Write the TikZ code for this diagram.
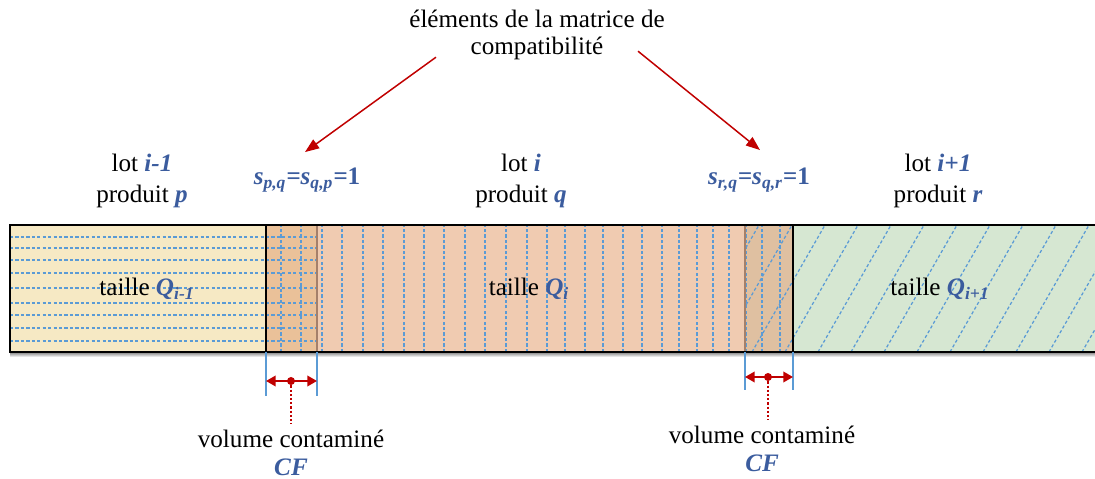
\documentclass[tikz,border=0pt]{standalone}
\usepackage{fontspec}
\setmainfont{Liberation Serif}
\usetikzlibrary{arrows.meta,positioning}

\definecolor{lotblue}{HTML}{3B5C9E}
\definecolor{hatch}{HTML}{5B9BD5}
\definecolor{darkred}{HTML}{C00000}
\definecolor{lotyellow}{HTML}{F6E9C4}
\definecolor{lotorange}{HTML}{F0CBB1}
\definecolor{lotgreen}{HTML}{D6E7D2}
\definecolor{mixleft}{HTML}{EAC199}
\definecolor{mixright}{HTML}{DFC0A1}
\definecolor{seam}{HTML}{A5806A}
\definecolor{shade}{HTML}{DCE5F1}

\newcommand{\hl}[1]{\textcolor{lotblue}{\bfseries\itshape #1}}

\begin{document}
\begin{tikzpicture}[
  x=0.02cm, y=0.02cm,
  font=\fontsize{14.3}{17.6}\selectfont,
  label/.style={align=center, inner sep=0pt},
  hatchline/.style={hatch, line width=0.7pt, dash pattern=on 1.8pt off 1.3pt},
  redarr/.style={-{Triangle[length=8pt,width=6pt]}, darkred, line width=0.85pt},
  cfarr/.style={{Triangle[length=5.5pt,width=6pt]}-{Triangle[length=5.5pt,width=6pt]}, darkred, line width=1.1pt},
  tick/.style={hatch, line width=0.8pt},
  lead/.style={darkred, line width=1.1pt, dash pattern=on 1.3pt off 1.1pt},
  dot/.style={circle, fill=darkred, inner sep=0pt, minimum size=0.16cm},
  edge/.style={line width=1.1pt}
]
\useasboundingbox (0,0) rectangle (1095,479);
% lots
\fill[shade] (10,122) rectangle (1100,127);
\fill[lotyellow] (10,127) rectangle (266,254);
\fill[mixleft] (266,127) rectangle (317,254);
\fill[lotorange] (317,127) rectangle (745,254);
\fill[mixright] (745,127) rectangle (793,254);
\fill[lotgreen] (793,127) rectangle (1100,254);
% hatching
\foreach \y in {242,231,219,206,191,176,164,151,138}
  \draw[hatchline] (10,\y) -- (317,\y);
\foreach \x in {281,301,322,342,363,383,404,424,444,465,485,506,527,547,565,585,603,623,642,662,679,697,713,729,746,762,780}
  \draw[hatchline] (\x,127) -- (\x,254);
\begin{scope}
  \clip (745,127) rectangle (1100,254);
  \foreach \b in {653,686,...,1100}
    \draw[hatchline] (\b,127) -- ++(73,127);
\end{scope}
% borders
\draw[seam, line width=0.9pt] (317,127) -- (317,254) (745,127) -- (745,254);
\draw[edge] (266,127) -- (266,254) (793,127) -- (793,254);
\draw[edge] (1100,254) -- (10,254) -- (10,127) -- (1100,127);

% labels
\node[label, font=\fontsize{14.3}{15.3}\selectfont] (title) at (537,444) {éléments de la matrice de\\compatibilité};
\node[label] (lotp) at (142,298) {lot \hl{i-1}\\produit \hl{p}};
\node[label] (lotq) at (521,298) {lot \hl{i}\\produit \hl{q}};
\node[label] (lotr) at (938,298) {lot \hl{i+1}\\produit \hl{r}};
\node[anchor=base, inner sep=0pt] (spq) at (307,294) {\hl{s\textsubscript{p,q}=s\textsubscript{q,p}=\upshape 1}};
\node[anchor=base, inner sep=0pt] (srq) at (759,294) {\hl{s\textsubscript{r,q}=s\textsubscript{q,r}=\upshape 1}};
\node[anchor=base, inner sep=0pt] (sizep) at (147,183) {taille \hl{Q\textsubscript{i-1}}};
\node[anchor=base, inner sep=0pt] (sizeq) at (529,183) {taille \hl{Q\textsubscript{i}}};
\node[anchor=base, inner sep=0pt] (sizer) at (940,183) {taille \hl{Q\textsubscript{i+1}}};

\draw[redarr] ([shift={(27,3)}]title.south west) -- ([shift={(-2,16)}]spq.north);
\draw[redarr] ([shift={(-27,9)}]title.south east) -- ([shift={(1,18)}]srq.north);

% contaminated volumes
\draw[tick] (266,127) -- (266,83) (317,127) -- (317,83);
\draw[cfarr] (266,98) -- (317,98);
\node[dot] (dotp) at (291,98) {};
\node[label, anchor=north, inner sep=3pt, font=\fontsize{14.3}{15.9}\selectfont] (volp) at (291,55) {volume contaminé\\\hl{CF}};
\draw[lead] (dotp) -- (volp);

\draw[tick] (745,127) -- (745,89) (793,127) -- (793,89);
\draw[cfarr] (745,102) -- (793,102);
\node[dot] (dotr) at (768,102) {};
\node[label, anchor=north, inner sep=3pt, font=\fontsize{14.3}{15.9}\selectfont] (volr) at (762,59) {volume contaminé\\\hl{CF}};
\draw[lead] (dotr) -- (volr.north -| dotr);
\end{tikzpicture}
\end{document}
